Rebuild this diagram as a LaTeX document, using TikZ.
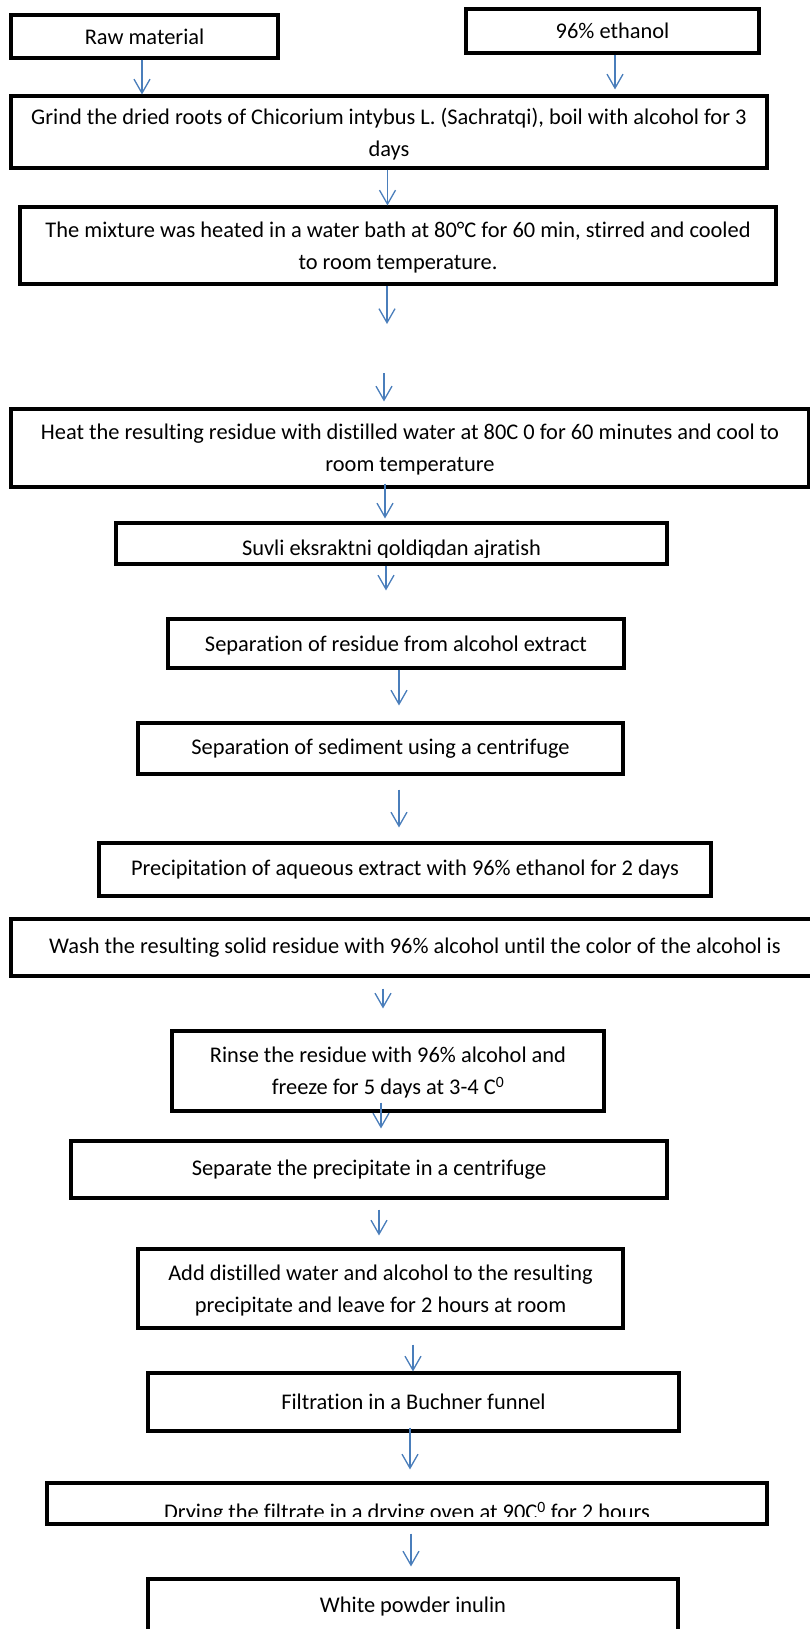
\documentclass[tikz,border=0pt]{standalone}
\usepackage{fontspec}
\setmainfont{Carlito}[Ligatures=NoCommon]
\usetikzlibrary{arrows.meta}
\definecolor{flowblue}{RGB}{74,126,187}

\begin{document}
\begin{tikzpicture}[x=1pt,y=1pt,
  box/.style={draw, line width=3.1pt, inner sep=0pt, align=center, font=\fontsize{22.4}{32}\selectfont},
  drop/.style={text depth=#1},
  txt/.style={inner sep=0pt, anchor=base, font=\fontsize{22.4}{32}\selectfont},
  flow/.style={draw=flowblue, line width=1.3pt, -{Straight Barb[length=14pt,width=16pt]}}]
\useasboundingbox (0,0) rectangle (809,-1629);
\node(1) at (144.5,-36.5) [box, drop=-7pt, minimum width=267pt, minimum height=43pt] {Raw material};
\node(2) at (612.5,-31) [box, drop=-7pt, minimum width=293pt, minimum height=44pt] {96\% ethanol};
\node(3) at (389,-132) [box, drop=-4pt, minimum width=756pt, minimum height=72pt] {Grind the dried roots of Chicorium intybus L. (Sachratqi), boil with alcohol for 3\\days};
\node(4) at (398,-245.5) [box, drop=-4pt, minimum width=756pt, minimum height=77pt] {The mixture was heated in a water bath at 80°C for 60 min, stirred and cooled\\to room temperature.};
\node(5) at (410,-448) [box, drop=-4pt, minimum width=798pt, minimum height=78pt] {Heat the resulting residue with distilled water at 80C 0 for 60 minutes and cool to\\room temperature};
\node(6) at (391.5,-543.5) [box, minimum width=551pt, minimum height=41pt] {};
\node(7) at (396,-643.5) [box, drop=-2pt, minimum width=456pt, minimum height=49pt] {Separation of residue from alcohol extract};
\node(8) at (380.5,-748.5) [box, minimum width=485pt, minimum height=51pt] {Separation of sediment using a centrifuge};
\node(9) at (405,-869.5) [box, minimum width=612pt, minimum height=53pt] {Precipitation of aqueous extract with 96\% ethanol for 2 days};
\node(10) at (415,-947.5) [box, minimum width=808pt, minimum height=57pt] {Wash the resulting solid residue with 96\% alcohol until the color of the alcohol is};
\node(11) at (388,-1071) [box, drop=-2pt, minimum width=432pt, minimum height=80pt] {Rinse the residue with 96\% alcohol and\\freeze for 5 days at 3-4 C\textsuperscript{0}};
\node(12) at (369,-1169.5) [box, minimum width=596pt, minimum height=57pt] {Separate the precipitate in a centrifuge};
\node(13) at (380.5,-1288.5) [box, drop=-4pt, minimum width=485pt, minimum height=79pt] {Add distilled water and alcohol to the resulting\\precipitate and leave for 2 hours at room};
\node(14) at (413.5,-1402) [box, minimum width=531pt, minimum height=58pt] {Filtration in a Buchner funnel};
\node(15) at (407,-1503.5) [box, minimum width=720pt, minimum height=41pt] {};
\node(16) at (413,-1606.5) [box, minimum width=530pt, minimum height=55pt] {White powder inulin};
% texts cut off at the bottom of their boxes
\begin{scope}
\clip (6.north west) rectangle ([yshift=8pt]6.south east);
\node(61) at ([yshift=10pt]6.south) [txt] {Suvli eksraktni qoldiqdan ajratish};
\end{scope}
\begin{scope}
\clip (15.north west) rectangle ([yshift=9pt]15.south east);
\node(151) at ([yshift=6pt]15.south) [txt] {Drying the filtrate in a drying oven at 90C\textsuperscript{0} for 2 hours};
\end{scope}
\coordinate(41) at (387,-324);
\coordinate(42) at (384,-373);
\draw[flow] ([xshift=-2.5pt]1.south) -- ([xshift=-247pt]3.north);
\draw[flow, shorten >=5pt] ([xshift=2.5pt]2.south) -- ([xshift=226pt]3.north);
\draw[flow] ([xshift=-1.5pt]3.south) -- ([xshift=-10.5pt]4.north);
\draw[flow] ([xshift=-11pt]4.south) -- (41);
\draw[flow, shorten >=6pt] (42) -- ([xshift=-26pt]5.north);
\draw[flow, shorten >=3pt] ([xshift=-25pt,yshift=5pt]5.south) -- ([xshift=-6.5pt]6.north);
\draw[flow, shorten >=27pt] ([xshift=-5.5pt]6.south) -- ([xshift=-10pt]7.north);
\draw[flow, shorten >=16pt] ([xshift=3pt]7.south) -- ([xshift=18.5pt]8.north);
\draw[flow, shorten <=14pt, shorten >=14pt] ([xshift=18.5pt]8.south) -- ([xshift=-6pt]9.north);
\draw[flow, shorten <=11pt, shorten >=21pt] ([xshift=-32pt]10.south) -- ([xshift=-5pt]11.north);
\draw[flow, shorten >=11pt] ([xshift=-7pt,yshift=10pt]11.south) -- ([xshift=12pt]12.north);
\draw[flow, shorten <=10pt, shorten >=12pt] ([xshift=10pt]12.south) -- ([xshift=-1.5pt]13.north);
\draw[flow, shorten <=15pt] ([xshift=32.5pt]13.south) -- ([xshift=-0.5pt]14.north);
\draw[flow, shorten >=12pt] ([xshift=-3.5pt,yshift=5pt]14.south) -- ([xshift=3pt]15.north);
\draw[flow, shorten <=8pt, shorten >=11pt] ([xshift=4pt]15.south) -- ([xshift=-2pt]16.north);
\end{tikzpicture}
\end{document}
